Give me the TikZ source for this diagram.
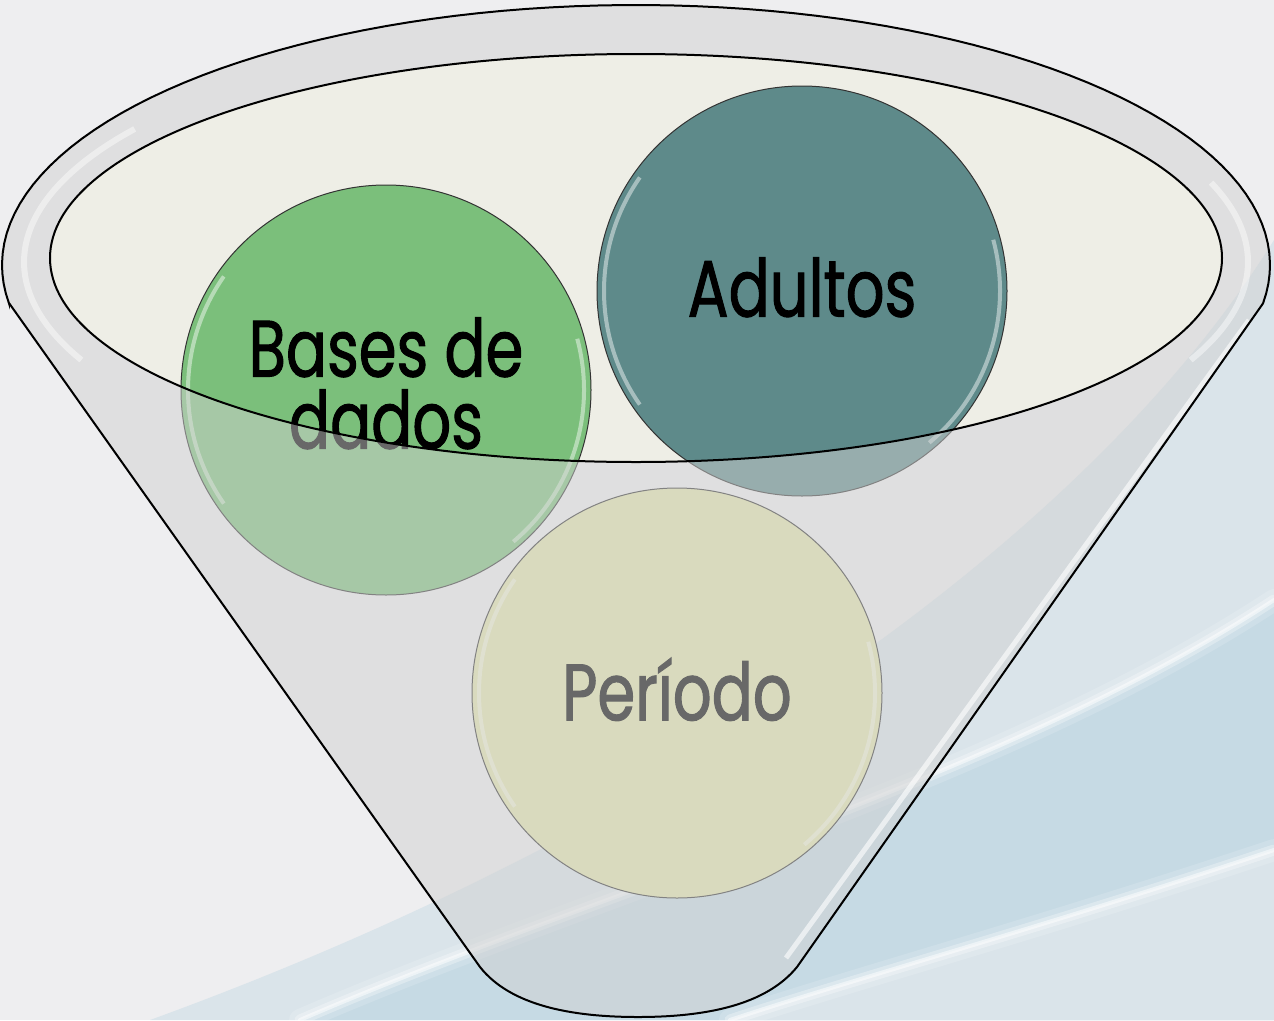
\documentclass[tikz,border=0pt]{standalone}
\usepackage{fontspec}
\newfontfamily\funnelfont[FakeStretch=0.76, FakeBold=1.2]{Poppins}
\usetikzlibrary{positioning}

\definecolor{backdrop}{RGB}{238,238,240}
\definecolor{skyblue}{RGB}{198,218,228}
\definecolor{skylight}{RGB}{218,228,234}
\definecolor{mouth}{RGB}{238,238,230}
\definecolor{wall}{RGB}{209,209,209}
\definecolor{leafgreen}{RGB}{123,191,123}
\definecolor{slateteal}{RGB}{94,138,138}
\definecolor{strawbeige}{RGB}{226,228,171}

\tikzset{
  bubble/.style={circle, draw=black!80, line width=1pt, minimum size=410pt,
    inner sep=0pt, align=center, text depth=8pt,
    font=\funnelfont\fontsize{80}{72}\selectfont},
  shine/.style={white, opacity=.45, line width=4pt},
  streak/.style={white, line cap=round},
  rim/.style={black, line width=2pt},
}

% outline of the funnel: top of the rim, the two sides, the round bottom
\newcommand{\funnelshape}{(9,303) -- plot[domain=188.5:-8.5, samples=90]
  ({636+634*cos(\x)}, {265-260*sin(\x)}) -- (797,967)
  .. controls (766,1005) and (706,1017) .. (638,1017)
  .. controls (570,1017) and (510,1005) .. (480,967) -- cycle}

\begin{document}
\begin{tikzpicture}[x=1pt, y=-1pt]
\useasboundingbox (0,0) rectangle (1274,1020);

% backdrop
\fill[backdrop] (0,0) rectangle (1274,1020);
\fill[skylight] (1274,240) .. controls (1100,520) and (700,820) .. (150,1020) -- (1274,1020) -- cycle;
\fill[skyblue] (1274,600) .. controls (1000,780) and (600,890) .. (300,1020) -- (1274,1020) -- cycle;
\fill[skylight] (1274,850) .. controls (1050,925) and (850,980) .. (730,1020) -- (1274,1020) -- cycle;
\foreach \w/\o in {22/.15, 11/.3, 4/.5} {
  \draw[streak, line width=\w pt, opacity=\o] (1274,600) .. controls (1000,780) and (600,890) .. (300,1020);
  \draw[streak, line width=\w pt, opacity=\o] (1274,850) .. controls (1050,925) and (850,980) .. (730,1020);
}

% mouth of the funnel
\fill[mouth] (636,258) ellipse [x radius=586pt, y radius=204pt];

% the three circles
\node[bubble, fill=leafgreen, text depth=14pt] (bases) at (386,390) {Bases de\\dados};
\node[bubble, fill=slateteal] (adultos) at (802,291) {Adultos};
\node[bubble, fill=strawbeige] (periodo) at (677,693) {Período};

\foreach \c in {bases,adultos,periodo} {
  \draw[shine] ([shift={(145:198pt)}]\c.center) arc[start angle=145, end angle=215, radius=198pt];
  \draw[shine] ([shift={(-50:198pt)}]\c.center) arc[start angle=-50, end angle=15, radius=198pt];
}

% wall of the funnel, seen through
\fill[wall, opacity=.5, even odd rule] \funnelshape (636,258) ellipse [x radius=586pt, y radius=204pt];
\draw[white, opacity=.45, line width=6pt] plot[domain=145:205, samples=40] ({636+612*cos(\x)}, {262-232*sin(\x)});
\draw[white, opacity=.45, line width=6pt] plot[domain=-25:20, samples=40] ({636+612*cos(\x)}, {262-232*sin(\x)});
\draw[white, opacity=.6, line width=5pt] (1249,320) -- (786,958);
\draw[rim] \funnelshape;
\draw[rim] (636,258) ellipse [x radius=586pt, y radius=204pt];

\end{tikzpicture}
\end{document}
